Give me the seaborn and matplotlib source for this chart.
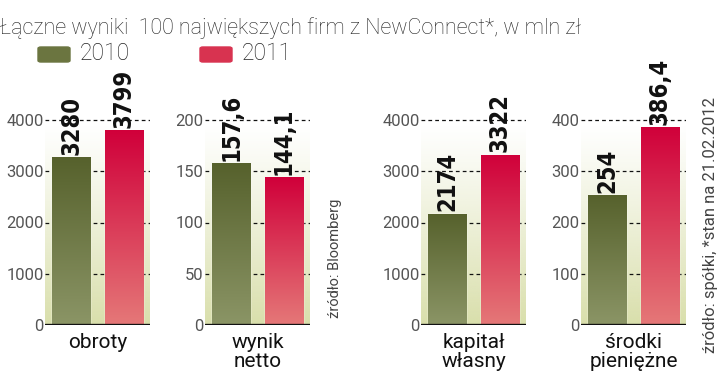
import numpy as np
import pandas as pd
import matplotlib
matplotlib.use("Agg")
import matplotlib.pyplot as plt
import seaborn as sns
from matplotlib.colors import LinearSegmentedColormap, to_rgb
from matplotlib.patches import FancyBboxPatch
from matplotlib import font_manager

# data
categories = ["obroty", "wynik\nnetto", "kapitał\nwłasny", "środki\npieniężne"]
years = ["2010", "2011"]
v2010 = [3280, 157.6, 2174, 254]
v2011 = [3799, 144.1, 3322, 386.4]
ticks = [
    [0, 1000, 2000, 3000, 4000],
    [0, 50, 100, 150, 200],
    [0, 1000, 2000, 3000, 4000],
    [0, 100, 200, 300, 400],
]

W, H = 720, 382
GREEN = ("#8b9566", "#56612c")   # bottom, top
RED = ("#e57878", "#d0003a")
BG = "#d9dfab"

sns.set_theme(style="white")
plt.rcParams["font.family"] = ["Roboto", "DejaVu Sans"]

# condensed bold face for the value labels, if one is installed
names = {f.name for f in font_manager.fontManager.ttflist}
if "Liberation Sans Narrow" in names:
    VAL_FONT = dict(family=["Liberation Sans Narrow", "DejaVu Sans"], fontsize=19)
else:
    VAL_FONT = dict(family=["DejaVu Sans"], fontstretch="condensed", fontsize=17)

fig = plt.figure(figsize=(W / 100, H / 100), dpi=100)


def px_axes(x, y_top, w, h):
    return fig.add_axes([x / W, 1 - (y_top + h) / H, w / W, h / H])


def fmt(v):
    if float(v).is_integer():
        return str(int(v))
    return f"{v:.1f}".replace(".", ",")


lefts = [45, 205, 421, 581]
for i, cat in enumerate(categories):
    ax = px_axes(lefts[i], 95, 105, 230)
    df = pd.DataFrame({"rok": years, "value": [v2010[i], v2011[i]]})
    sns.barplot(data=df, x="rok", y="value", hue="rok",
                palette=[GREEN[1], RED[1]], width=0.73, ax=ax,
                legend=False, zorder=3)
    top = ticks[i][-1]
    ymax = top * 230 / 205

    # background gradient
    bg = np.zeros((256, 1, 4))
    bg[..., :3] = to_rgb(BG)
    bg[:, 0, 3] = np.linspace(0, 1, 256) ** 1.1
    ax.imshow(bg, extent=[-0.5, 1.5, 0, top * 0.98], origin="lower",
              aspect="auto", zorder=0)
    # imshow origin lower -> row 0 at bottom; flip so alpha is 1 at bottom
    ax.images[-1].set_data(bg[::-1])

    # gradient fill on the bars
    for patch, cols in zip(ax.patches, [GREEN, RED]):
        x0, w, h = patch.get_x(), patch.get_width(), patch.get_height()
        cmap = LinearSegmentedColormap.from_list("g", list(cols))
        grad = np.linspace(0, 1, 256).reshape(-1, 1)
        im = ax.imshow(grad, cmap=cmap, extent=[x0, x0 + w, 0, h],
                       origin="lower", aspect="auto", zorder=4)
        im.set_clip_path(patch)
        ax.text(x0 + w / 2, h + ymax * 0.01, fmt(patch.get_height()),
                rotation=90, ha="center", va="bottom", fontweight="bold",
                color="#111111", zorder=6, clip_on=False, **VAL_FONT)

    ax.set_xlim(-0.5, 1.5)
    ax.set_ylim(0, ymax)
    ax.set_yticks(ticks[i])
    ax.tick_params(axis="y", length=0, pad=1, labelsize=12,
                   labelcolor="#555555")
    ax.set_xticks([])
    for t in ticks[i][1:]:
        ax.axhline(t, color="#111111", lw=0.9, ls=(0, (3, 2.5)), zorder=2)
    ax.axhline(0, color="#111111", lw=2.4, zorder=7)
    for s in ax.spines.values():
        s.set_visible(False)
    ax.set_ylabel("")
    ax.set_xlabel(cat, fontsize=15, color="#111111", linespacing=0.95,
                  labelpad=6)

# title and legend
fig.text(0 / W, 1 - 28 / H, "Łączne wyniki  100 największych firm z NewConnect*, w mln zł",
         fontsize=15.5, fontweight="light", color="#222222", va="center", ha="left")
for x, col, lab in [(38, "#6b7540", "2010"), (200, "#d83350", "2011")]:
    fig.patches.append(FancyBboxPatch((x / W, 1 - 62 / H), 32 / W, 15 / H,
                                      boxstyle="round,pad=0,rounding_size=0.004",
                                      transform=fig.transFigure, color=col))
    fig.text((x + 42) / W, 1 - 54 / H, lab, fontsize=16.5, fontweight="light",
             color="#222222", va="center", ha="left")

# sources
fig.text(335 / W, 1 - 258 / H, "źródło: Bloomberg", rotation=90,
         fontsize=10.5, color="#444444", va="center", ha="center")
fig.text(711 / W, 1 - 225 / H, "źródło: spółki, *stan na 21.02.2012", rotation=90,
         fontsize=12, color="#444444", va="center", ha="center")

fig.savefig("out.png", dpi=100)
